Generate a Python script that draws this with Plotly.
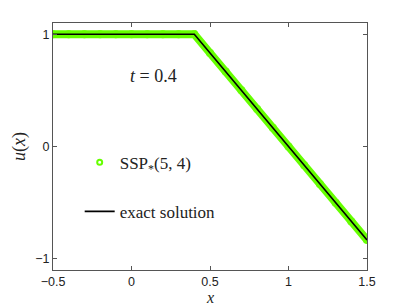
import plotly.graph_objects as go

# numerical solution SSP*(5,4), read at t = 0.4
x_num = [-0.5, -0.4, -0.3, -0.2, -0.1, 0.0, 0.1, 0.2, 0.3, 0.4, 0.5, 0.6, 0.7,
         0.8, 0.9, 1.0, 1.1, 1.2, 1.3, 1.4, 1.5]
u_num = [1.0, 1.0, 1.0, 1.0, 1.0, 1.0, 1.0, 1.0, 1.0, 1.0, 0.833, 0.667, 0.5,
         0.333, 0.167, 0.0, -0.167, -0.333, -0.5, -0.667, -0.833]
# exact solution (piecewise linear)
x_exact = [-0.5, 0.4, 1.5]
u_exact = [1.0, 1.0, -0.833]

xticks = [-0.5, 0, 0.5, 1, 1.5]
xtick_text = ["\u22120.5", "0", "0.5", "1", "1.5"]
yticks = [-1, 0, 1]
ytick_text = ["\u22121", "0", "1"]

LIME = "#66FF00"
SERIF = "Liberation Serif, DejaVu Serif, serif"
SANS = "Liberation Sans, Arial, sans-serif"

fig = go.Figure()
# dense numerical markers rendered as a band
fig.add_trace(go.Scatter(x=x_num, y=u_num, mode="lines+markers",
                         line=dict(color=LIME, width=8),
                         marker=dict(symbol="circle", size=8, color=LIME),
                         showlegend=False, hoverinfo="skip"))
fig.add_trace(go.Scatter(x=[None], y=[None], mode="markers",
                         name="SSP<sub>*</sub>(5, 4)", legendgroup="a",
                         marker=dict(symbol="circle-open", size=5, color=LIME,
                                     line=dict(width=2, color=LIME))))
fig.add_trace(go.Scatter(x=x_exact, y=u_exact, mode="lines",
                         name="exact solution", legendgroup="b",
                         line=dict(color="black", width=1.6)))

fig.add_annotation(x=0.14, y=0.63, xref="x", yref="y", showarrow=False,
                   text="<i>t</i> = 0.4", font=dict(family=SERIF, size=18, color="#222"))
# x-axis title
fig.add_annotation(x=0.5, y=0, xref="paper", yref="paper", showarrow=False,
                   yanchor="middle", yshift=-27, borderpad=0,
                   text="<i>x</i>", font=dict(family=SERIF, size=16, color="#222"))

fig.update_layout(
    width=405, height=305,
    margin=dict(l=45, r=46, t=15, b=43),
    paper_bgcolor="white", plot_bgcolor="white",
    showlegend=True,
    legend=dict(x=0.085, y=0.335, xanchor="left", yanchor="middle",
                bgcolor="rgba(0,0,0,0)", font=dict(family=SERIF, size=17, color="#222"),
                tracegroupgap=24, itemwidth=30),
    xaxis=dict(range=[-0.5, 1.5], tickvals=xticks, ticktext=xtick_text, automargin=False,
               showgrid=False, zeroline=False, showline=True, linecolor="#555",
               linewidth=1, mirror="ticks", ticks="inside", ticklen=4, tickcolor="#555",
               tickfont=dict(family=SANS, size=12.5, color="#222")),
    yaxis=dict(range=[-1.1, 1.1], tickvals=yticks, ticktext=ytick_text, automargin=False,
               showgrid=False, zeroline=False, showline=True, linecolor="#555",
               linewidth=1, mirror="ticks", ticks="inside", ticklen=4, tickcolor="#555",
               tickfont=dict(family=SANS, size=12.5, color="#222"),
               title=dict(text="<i>u</i>(<i>x</i>)", font=dict(family=SERIF, size=18, color="#222"),
                          standoff=4)),
)

fig.write_html("out.html")
